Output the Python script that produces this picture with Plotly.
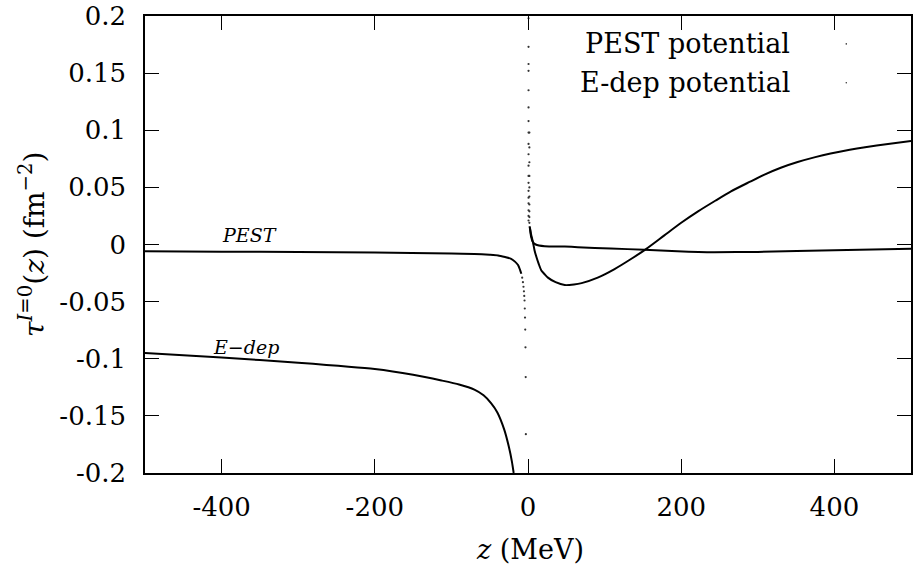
import plotly.graph_objects as go

# ---- data ----
pest_left_z = [-500, -400, -300, -200, -100, -70, -50, -39, -30, -22, -17, -13, -10.5, -8.7]
pest_left_y = [-0.0060, -0.0063, -0.0066, -0.0070, -0.0078, -0.0083, -0.0090, -0.0096, -0.0110, -0.0125, -0.0150,
               -0.0180, -0.0220, -0.0256]
pest_pole_z = [-7.6, -6.6, -5.9, -5.3, -4.9, -4.5, -4.2, -3.9, -3.6, -3.3, -3.0]
pest_pole_y = [-0.029, -0.033, -0.037, -0.041, -0.045, -0.049, -0.056, -0.064, -0.0745, -0.090, -0.116]
pest_pole2_z = [-2.8]
pest_pole2_y = [-0.166]

pest_right_z = [2.5, 4, 6.5, 10, 21.7, 48, 65, 108, 152, 195, 243, 300, 400, 500]
pest_right_y = [0.0150, 0.0070, 0.0020, 0.0000, -0.0015, -0.0018, -0.0023, -0.0036, -0.0045, -0.0058, -0.0067,
                -0.0065, -0.0050, -0.0038]
pest_pos_dots_z = [1.8, 1.8, 1.8, 1.8, 1.8, 1.8, 1.8, 1.8, 1.8, 1.8]
pest_pos_dots_y = [0.098, 0.085, 0.072, 0.060, 0.050, 0.042, 0.035, 0.029, 0.024, 0.019]

edep_left_z = [-500, -400, -300, -200, -150, -113, -90, -70, -58, -48, -40, -31, -25, -21, -18.7]
edep_left_y = [-0.095, -0.099, -0.1035, -0.109, -0.114, -0.119, -0.1225, -0.127, -0.132, -0.139, -0.147, -0.162,
               -0.177, -0.190, -0.200]

edep_right_z = [2.0, 4.0, 6.5, 8.5, 11, 14, 17.4, 21.7, 26, 36, 48, 60, 70, 91, 113, 135, 154, 178, 200, 222, 245,
                265, 290, 308, 330, 352, 375, 395, 420, 440, 470, 500]
edep_right_y = [0.0160, 0.0090, 0.0020, -0.0050, -0.0110, -0.0170, -0.0227, -0.0260, -0.0290, -0.0330, -0.0355,
                -0.0350, -0.0338, -0.0290, -0.0215, -0.0125, -0.0040, 0.0080, 0.0190, 0.0290, 0.0385, 0.0465,
                0.0550, 0.0610, 0.0672, 0.0722, 0.0765, 0.0797, 0.0830, 0.0852, 0.0880, 0.0905]
edep_pos_dots_z = [0.7] * 19
edep_pos_dots_y = [0.198, 0.173, 0.158, 0.152, 0.135, 0.120, 0.108, 0.098, 0.088, 0.079, 0.069, 0.060, 0.054,
                   0.047, 0.041, 0.036, 0.030, 0.025, 0.021]

x_ticks = [-400, -200, 0, 200, 400]
x_tick_text = ["-400", "-200", "0", "200", "400"]
y_ticks = [-0.2, -0.15, -0.1, -0.05, 0, 0.05, 0.1, 0.15, 0.2]
y_tick_text = ["-0.2", "-0.15", "-0.1", "-0.05", "0", "0.05", "0.1", "0.15", "0.2"]

legend_names = ["PEST potential", "E-dep potential"]
curve_labels = ["PEST", "E\u2212dep"]
curve_label_pos = [(-363, 0.008), (-368, -0.090)]

FONT = "DejaVu Serif"
BLACK = "#000000"

fig = go.Figure()

def line(z, y):
    fig.add_trace(go.Scatter(x=z, y=y, mode="lines", showlegend=False, hoverinfo="skip",
                             line=dict(color=BLACK, width=2, shape="spline", smoothing=0.6)))

def dots(z, y):
    fig.add_trace(go.Scatter(x=z, y=y, mode="markers", showlegend=False, hoverinfo="skip",
                             marker=dict(color="#333333", size=2.2, line=dict(width=0))))

line(pest_left_z, pest_left_y)
dots(pest_pole_z, pest_pole_y)
dots(pest_pole2_z, pest_pole2_y)
line(pest_right_z, pest_right_y)
dots(pest_pos_dots_z, pest_pos_dots_y)
line(edep_left_z, edep_left_y)
line(edep_right_z, edep_right_y)
dots(edep_pos_dots_z, edep_pos_dots_y)

axis_common = dict(showgrid=False, zeroline=False, showline=True, linecolor=BLACK, linewidth=1.5,
                   mirror="allticks", ticks="inside", ticklen=14, tickwidth=1, tickcolor=BLACK,
                   ticklabeloverflow="allow",
                   tickfont=dict(family=FONT, size=26, color=BLACK))

fig.update_xaxes(range=[-500, 500], tickvals=x_ticks, ticktext=x_tick_text, ticklabelstandoff=10, **axis_common)
fig.update_yaxes(range=[-0.2, 0.2], tickvals=y_ticks, ticktext=y_tick_text, ticklabelstandoff=12, **axis_common)

annotations = []
# axis titles
annotations.append(dict(text="<i>z</i> (MeV)", xref="paper", yref="paper", x=0.503, y=-0.168,
                        xanchor="center", yanchor="middle", showarrow=False,
                        font=dict(family=FONT, size=27, color=BLACK)))
annotations.append(dict(text="<i>\u03c4</i><sup><i>I</i>=0</sup>(<i>z</i>) (fm<sup>\u22122</sup>)",
                        xref="paper", yref="paper", x=-0.147, y=0.5, textangle=-90,
                        xanchor="center", yanchor="middle", showarrow=False,
                        font=dict(family=FONT, size=28, color=BLACK)))
# curve labels
for txt, (zx, zy) in zip(curve_labels, curve_label_pos):
    annotations.append(dict(text="<i>" + txt + "</i>", x=zx, y=zy, xref="x", yref="y",
                            xanchor="center", yanchor="middle", showarrow=False,
                            font=dict(family=FONT, size=19, color=BLACK)))
# legend texts
legend_y = [0.939, 0.854]
for name, ly in zip(legend_names, legend_y):
    annotations.append(dict(text=name, xref="paper", yref="paper", x=0.844, y=ly,
                            xanchor="right", yanchor="middle", showarrow=False,
                            font=dict(family=FONT, size=27, color=BLACK)))

shapes = []
for ly in legend_y:
    shapes.append(dict(type="circle", xref="paper", yref="paper", x0=0.9145, x1=0.9165,
                       y0=ly - 0.0018, y1=ly + 0.0018, fillcolor="#333333", line=dict(width=0)))

fig.update_layout(width=914, height=572, margin=dict(l=145, r=1, t=15, b=99),
                  paper_bgcolor="white", plot_bgcolor="white",
                  annotations=annotations, shapes=shapes,
                  font=dict(family=FONT, color=BLACK))

fig.write_html("out.html")
